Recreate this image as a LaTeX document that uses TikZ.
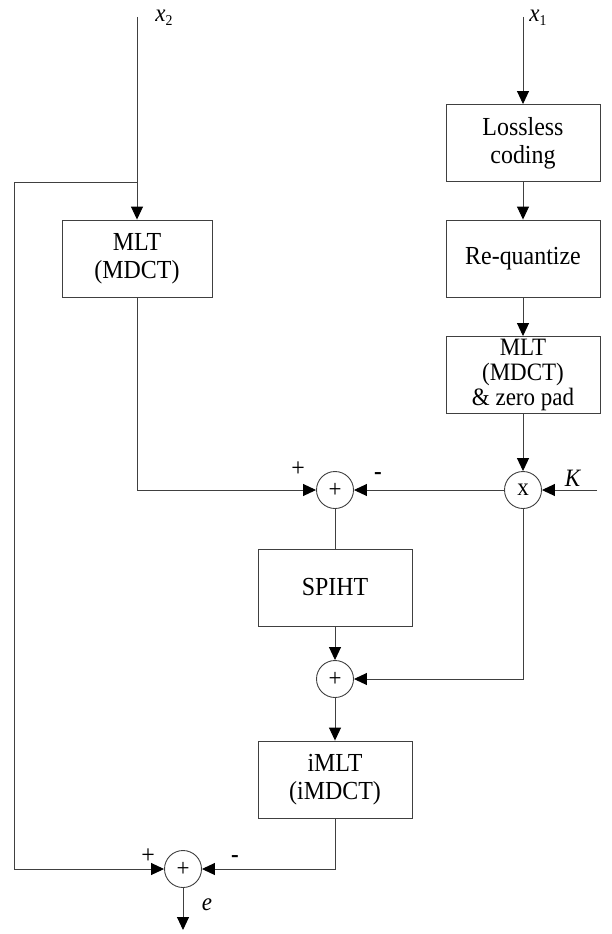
\documentclass[tikz,border=0pt]{standalone}
\usepackage{fontspec}
\setmainfont{Liberation Serif}[FakeStretch=0.92]
\usetikzlibrary{arrows.meta}
\tikzset{
  blk/.style={draw=black!75, line width=0.9pt, minimum width=154pt, minimum height=77pt,
    inner sep=1pt, align=center, font=\fontsize{26}{28}\selectfont},
  sumnode/.style={draw=black!75, line width=0.9pt, circle, minimum size=37pt, inner sep=0pt,
    font=\fontsize{25}{27}\selectfont},
  sig/.style={inner sep=0pt, font=\fontsize{25}{27}\selectfont},
  wire/.style={draw=black!75, line width=0.9pt},
  arr/.style={wire, -{Triangle[length=13pt,width=12pt,color=black]}}
}
\begin{document}
\begin{tikzpicture}[x=1pt,y=-1pt]
  \useasboundingbox (0,0) rectangle (611,934);
  % blocks
  \node[blk, minimum width=150pt] (mlt) at (137,258.5) {MLT\\(MDCT)};
  \node[blk] (lossless) at (523,143) {Lossless\\coding};
  \node[blk] (requant) at (523,258.5) {Re-quantize};
  \node[blk, font=\fontsize{25}{25}\selectfont] (pad) at (523,375) {MLT\\(MDCT)\\\& zero pad};
  \node[blk] (spiht) at (335,587.5) {SPIHT};
  \node[blk] (imlt) at (335,779.5) {iMLT\\(iMDCT)};
  % adders and multiplier
  \node[sumnode] (mul) at (523,490) {x};
  \node[sumnode] (sum1) at (335,490) {+};
  \node[sumnode] (sum2) at (335,679) {+};
  \node[sumnode] (sum3) at (183,869) {+};
  % free ends
  \coordinate (in2) at (137,17);
  \coordinate (in1) at (523,17);
  \coordinate (kin) at (597,490);
  \coordinate (tap) at (137,182);
  \coordinate (corner) at (14,182);
  \coordinate (out) at (183,930);
  % signals
  \node[sig] (lx2) at (164,18) {\textit{x}{\fontsize{15}{15}\selectfont\raisebox{-4pt}{2}}};
  \node[sig] (lx1) at (538,18) {\textit{x}{\fontsize{15}{15}\selectfont\raisebox{-4pt}{1}}};
  \node[sig] (lk) at (573,478) {\textit{K}};
  \node[sig] (le) at (207,905) {\textit{e}};
  \node[sig, font=\fontsize{26}{28}\selectfont] (p1) at (298,469) {+};
  \node[sig] (m1) at (378,476) {\textbf{-}};
  \node[sig, font=\fontsize{26}{28}\selectfont] (p3) at (148,856) {+};
  \node[sig] (m3) at (235,859) {\textbf{-}};
  % connectors
  \draw[arr] (in2) -- (mlt);
  \draw[arr] (tap) -- (corner) |- (sum3);
  \draw[arr] (mlt) |- (sum1);
  \draw[arr] (in1) -- (lossless);
  \draw[arr] (lossless) -- (requant);
  \draw[arr] (requant) -- (pad);
  \draw[arr] (pad) -- (mul);
  \draw[arr] (kin) -- (mul);
  \draw[arr] (mul) -- (sum1);
  \draw[wire] (sum1) -- (spiht);
  \draw[arr] (spiht) -- (sum2);
  \draw[arr] (mul) |- (sum2);
  \draw[arr] (sum2) -- (imlt);
  \draw[arr] (imlt) |- (sum3);
  \draw[arr] (sum3) -- (out);
\end{tikzpicture}
\end{document}
